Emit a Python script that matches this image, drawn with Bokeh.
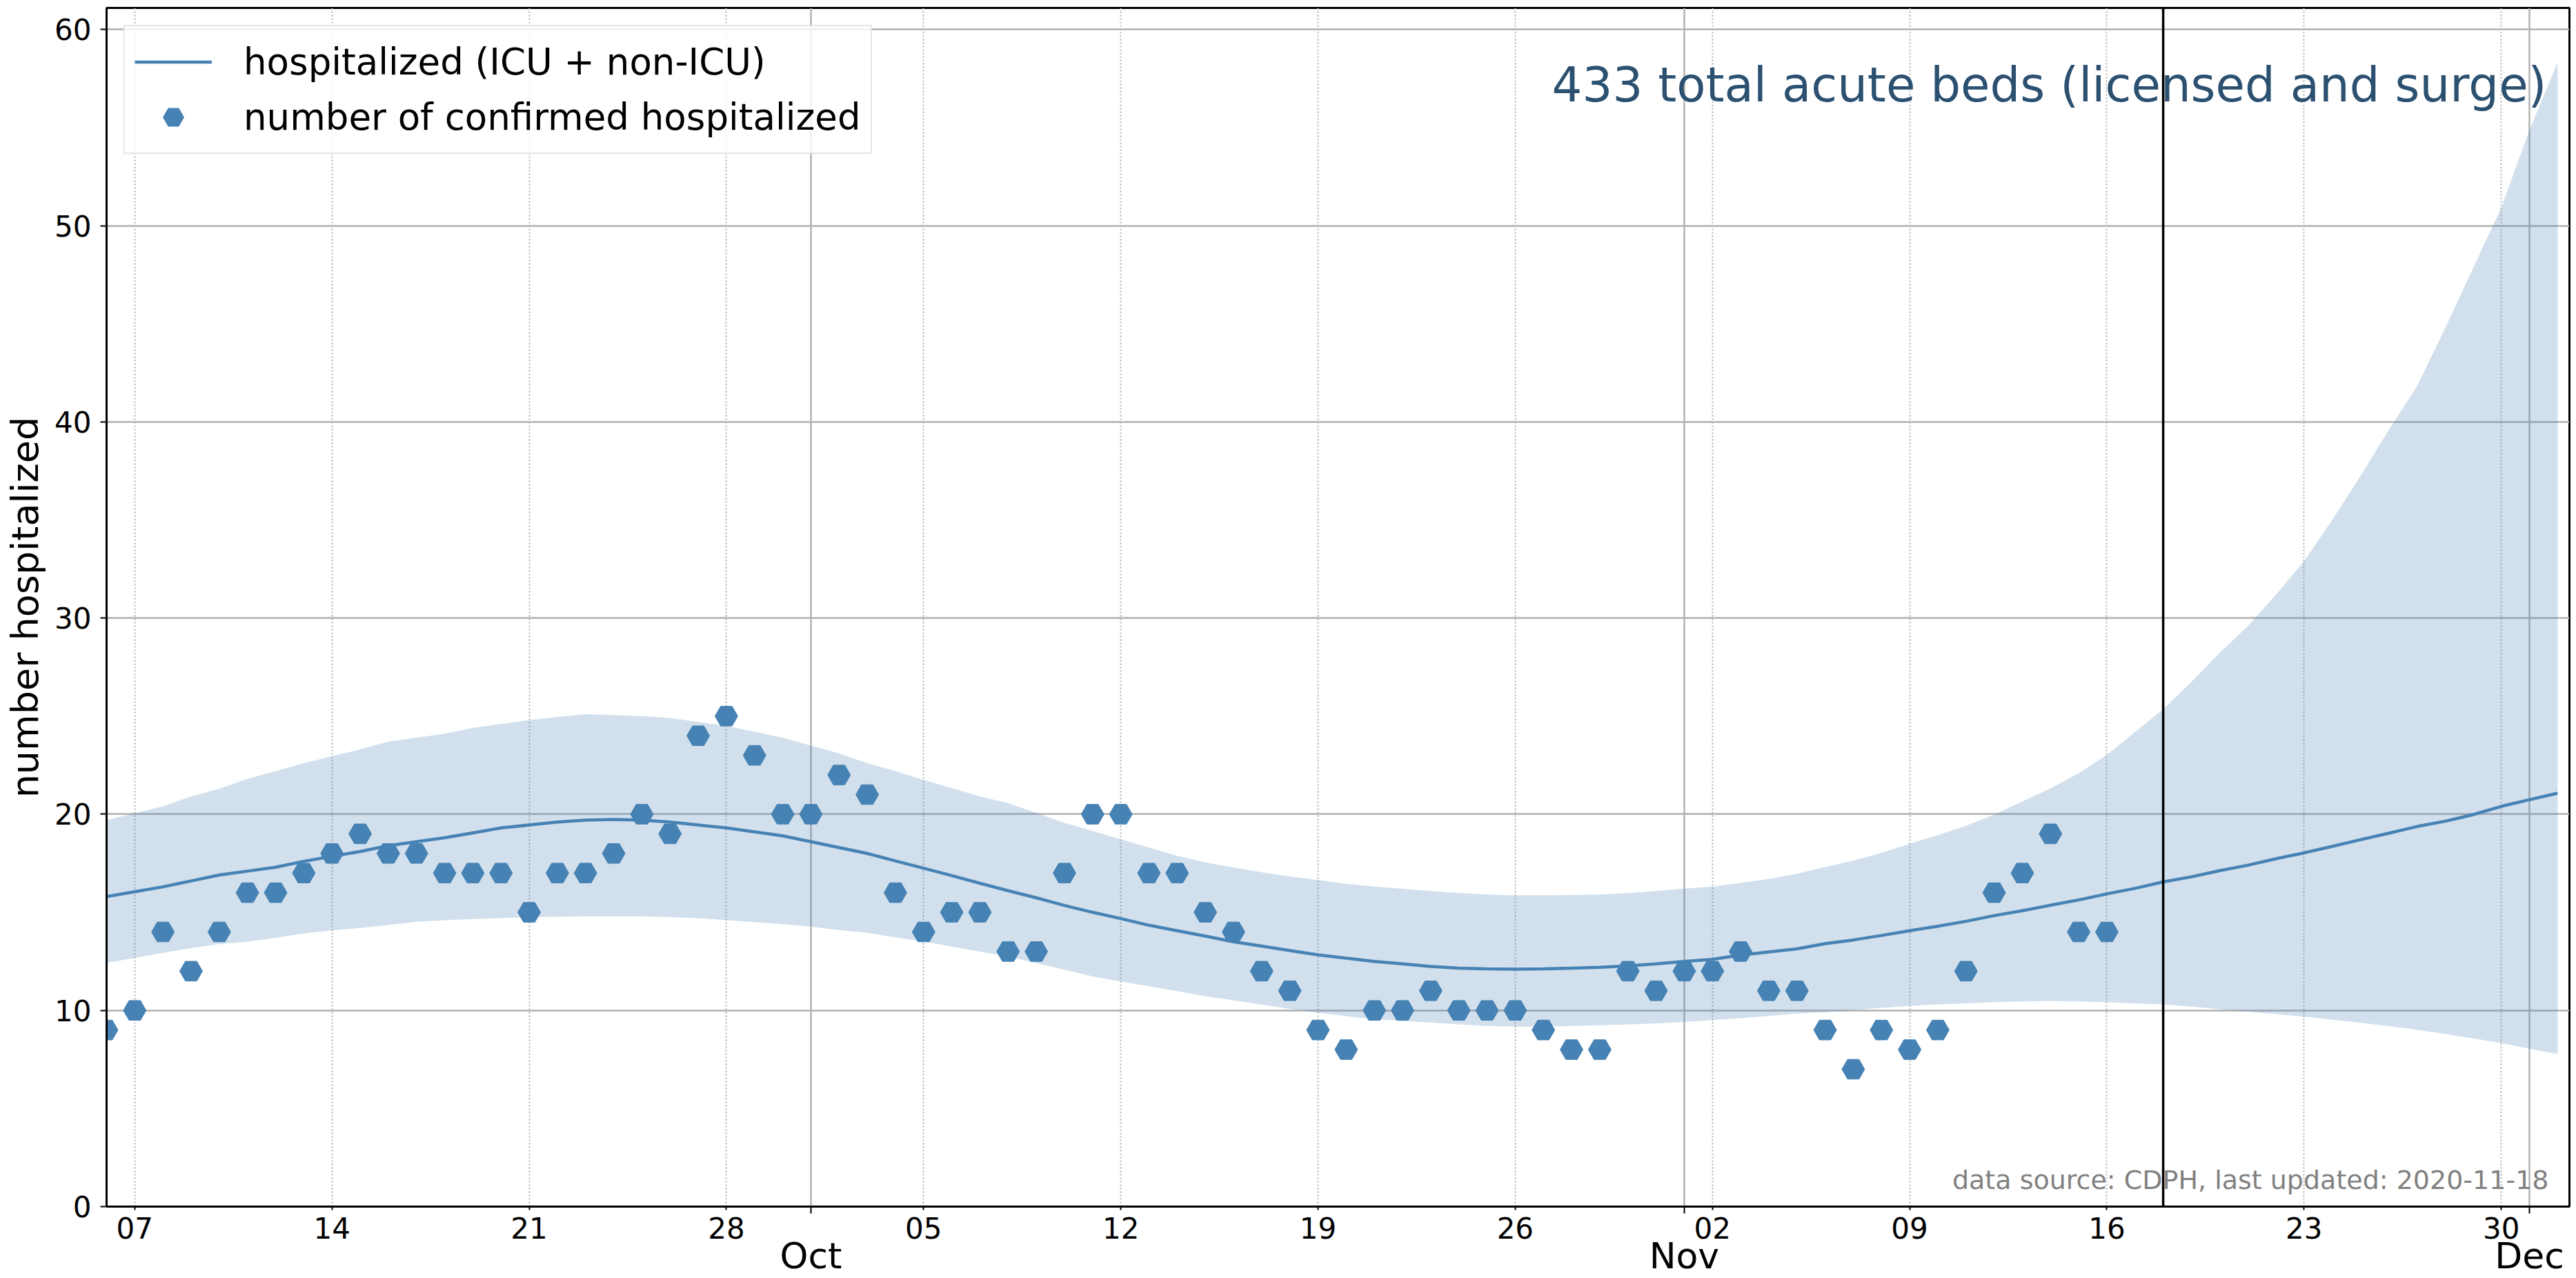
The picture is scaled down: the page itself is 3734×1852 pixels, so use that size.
import numpy as np
import pandas as pd
from bokeh.plotting import figure
from bokeh.models import (Range1d, FixedTicker, DatetimeTickFormatter, Span, Label,
                          ColumnDataSource, Legend, LegendItem, DatetimeAxis)
from bokeh.embed import file_html
from bokeh.resources import INLINE

# ---------------- data ----------------
observed_start = "2020-09-06"
observed = [9, 10, 14, 12, 14, 16, 16, 17, 18, 19, 18, 18, 17, 17, 17, 15, 17, 17, 18, 20,
            19, 24, 25, 23, 20,
            20, 22, 21, 16, 14, 15, 15, 13, 13, 17, 20, 20, 17, 17, 15, 14, 12, 11, 9, 8,
            10, 10, 11, 10, 10, 10, 9, 8, 8, 12, 11,
            12, 12, 13, 11, 11, 9, 7, 9, 8, 9, 12, 16, 17, 19, 14, 14]

model_start = "2020-09-06"
fit = [15.8, 16.05, 16.3, 16.6, 16.9, 17.1, 17.3, 17.6, 17.85, 18.1,
       18.4, 18.6, 18.8, 19.05, 19.3, 19.45, 19.6, 19.7, 19.73, 19.7,
       19.6, 19.45, 19.3, 19.1, 18.9, 18.6, 18.3, 18.0, 17.62, 17.25,
       16.87, 16.48, 16.1, 15.74, 15.35, 15.0, 14.68, 14.34, 14.06, 13.79,
       13.5, 13.28, 13.05, 12.83, 12.66, 12.5, 12.37, 12.24, 12.15, 12.12,
       12.1, 12.12, 12.15, 12.2, 12.27, 12.37, 12.5, 12.6, 12.82, 12.98,
       13.14, 13.4, 13.59, 13.82, 14.06, 14.29, 14.54, 14.83, 15.08, 15.36,
       15.63, 15.94, 16.22, 16.55, 16.81, 17.12, 17.4, 17.73, 18.03, 18.36,
       18.7, 19.03, 19.37, 19.64, 19.98, 20.4, 20.74, 21.07]
upper = [19.7, 20.05, 20.4, 20.9, 21.3, 21.8, 22.2, 22.6, 22.95, 23.3,
         23.7, 23.9, 24.1, 24.4, 24.6, 24.8, 24.96, 25.1, 25.05, 25.0,
         24.9, 24.7, 24.5, 24.2, 23.9, 23.5, 23.1, 22.6, 22.2, 21.75,
         21.33, 20.9, 20.57, 20.07, 19.56, 19.14, 18.72, 18.3, 17.88, 17.54,
         17.29, 17.04, 16.82, 16.65, 16.45, 16.31, 16.2, 16.08, 15.99, 15.91,
         15.86, 15.86, 15.88, 15.91, 15.98, 16.08, 16.21, 16.31, 16.5, 16.7,
         16.96, 17.31, 17.63, 18.03, 18.49, 18.93, 19.41, 19.98, 20.65, 21.32,
         22.08, 23.03, 24.18, 25.35, 26.74, 28.22, 29.58, 31.18, 32.9, 35.0,
         37.23, 39.57, 41.79, 44.75, 47.84, 50.92, 54.87, 58.32]
lower = [12.43, 12.67, 12.94, 13.17, 13.38, 13.5, 13.7, 13.92, 14.08, 14.2,
         14.35, 14.52, 14.6, 14.66, 14.7, 14.76, 14.77, 14.79, 14.79, 14.79,
         14.76, 14.7, 14.6, 14.5, 14.4, 14.27, 14.1, 13.96, 13.72, 13.52,
         13.25, 13.0, 12.74, 12.41, 12.07, 11.73, 11.48, 11.23, 10.98, 10.72,
         10.52, 10.3, 10.08, 9.88, 9.71, 9.55, 9.46, 9.38, 9.29, 9.21,
         9.17, 9.17, 9.21, 9.24, 9.29, 9.34, 9.41, 9.51, 9.6, 9.72,
         9.84, 9.9, 10.02, 10.13, 10.23, 10.31, 10.36, 10.42, 10.46, 10.48,
         10.46, 10.42, 10.36, 10.31, 10.19, 10.06, 9.94, 9.81, 9.68, 9.52,
         9.37, 9.2, 9.01, 8.8, 8.57, 8.34, 8.05, 7.77]

week_ticks = ["2020-09-07", "2020-09-14", "2020-09-21", "2020-09-28", "2020-10-05",
              "2020-10-12", "2020-10-19", "2020-10-26", "2020-11-02", "2020-11-09",
              "2020-11-16", "2020-11-23", "2020-11-30"]
month_ticks = ["2020-10-01", "2020-11-01", "2020-12-01"]
y_ticks = [0, 10, 20, 30, 40, 50, 60]
x_start, x_end_days = "2020-09-06", 87.42
y_max = 61.1
last_updated = "2020-11-18"

line_label = "hospitalized (ICU + non-ICU)"
dots_label = "number of confirmed hospitalized"
beds_text = "433 total acute beds (licensed and surge)"
source_text = "data source: CDPH, last updated: 2020-11-18"
y_label = "number hospitalized"

# ---------------- helpers ----------------
def ms(d):
    return pd.Timestamp(d).value / 1e6

DAY = 86400000.0
obs_x = [ms(observed_start) + i * DAY for i in range(len(observed))]
mod_x = [ms(model_start) + i * DAY for i in range(len(fit))]

FONT = "DejaVu Sans"
BLUE = "#4682b4"
GRID = "#b0b0b0"

p = figure(width=3734, height=1852, x_axis_type="datetime",
           output_backend="svg", toolbar_location=None,
           x_range=Range1d(ms(x_start), ms(x_start) + x_end_days * DAY),
           y_range=Range1d(0, y_max),
           min_border_left=154, min_border_right=10, min_border_top=11,
           min_border_bottom=101)
p.background_fill_color = "white"
p.border_fill_color = "white"
p.outline_line_color = "black"
p.outline_line_width = 3

band_src = ColumnDataSource(dict(x=mod_x, lo=lower, hi=upper, fit=fit))
obs_src = ColumnDataSource(dict(x=obs_x, y=observed))

p.varea(x="x", y1="lo", y2="hi", source=band_src, fill_color=BLUE, fill_alpha=0.25)
line_r = p.line(x="x", y="fit", source=band_src, line_color=BLUE, line_width=4.5)
dots_r = p.scatter(x="x", y="y", source=obs_src, marker="hex", size=33,
                   fill_color=BLUE, line_color=BLUE, line_width=1)

p.add_layout(Span(location=ms(last_updated), dimension="height",
                  line_color="black", line_width=3.5))

# ---- x axis: day numbers (weekly) ----
xa = p.xaxis[0]
xa.ticker = FixedTicker(ticks=[ms(d) for d in week_ticks],
                        minor_ticks=[ms(d) for d in month_ticks])
xa.formatter = DatetimeTickFormatter(days="%d", months="%d", hours="%d",
                                     years="%d", minutes="%d", hourmin="%d")
xa.axis_line_width = 3
xa.major_tick_out = 5
xa.major_tick_in = 0
xa.minor_tick_out = 10
xa.minor_tick_in = 0
xa.major_tick_line_width = 2
xa.minor_tick_line_width = 2
xa.major_label_text_font = FONT
xa.major_label_text_font_size = "42px"
xa.major_label_text_color = "black"
xa.major_label_standoff = 5

# ---- x axis: month names ----
ax2 = DatetimeAxis(ticker=FixedTicker(ticks=[ms(d) for d in month_ticks]),
                   formatter=DatetimeTickFormatter(days="%b", months="%b", hours="%b",
                                                   years="%b", minutes="%b", hourmin="%b"),
                   axis_line_color=None, major_tick_line_color=None,
                   minor_tick_line_color=None, major_label_standoff=-14,
                   major_label_text_font=FONT, major_label_text_font_size="52px",
                   major_label_text_line_height=1.0,
                   major_label_text_color="black")
p.add_layout(ax2, "below")

# ---- y axis ----
ya = p.yaxis[0]
ya.ticker = FixedTicker(ticks=y_ticks)
ya.axis_line_width = 3
ya.major_tick_out = 9
ya.major_tick_in = 0
ya.major_tick_line_width = 2
ya.minor_tick_line_color = None
ya.major_label_text_font = FONT
ya.major_label_text_font_size = "42px"
ya.major_label_text_color = "black"
ya.major_label_standoff = 13
ya.axis_label = y_label
ya.axis_label_text_font = FONT
ya.axis_label_text_font_size = "54px"
ya.axis_label_text_font_style = "normal"
ya.axis_label_text_color = "black"
ya.axis_label_standoff = 8

# grids
p.xgrid.grid_line_color = GRID
p.xgrid.grid_line_width = 2
p.xgrid.grid_line_dash = "2 3"
p.xgrid.minor_grid_line_color = GRID
p.xgrid.minor_grid_line_width = 2.4
p.ygrid.grid_line_color = GRID
p.ygrid.grid_line_width = 2.4

# annotations
p.add_layout(Label(x=3537, y=1626, x_units="screen", y_units="screen", text=beds_text,
                   text_align="right", text_baseline="middle", text_font=FONT,
                   text_font_size="69px", text_color="#2b5070"))
p.add_layout(Label(x=3540, y=39, x_units="screen", y_units="screen", text=source_text,
                   text_align="right", text_baseline="middle", text_font=FONT,
                   text_font_size="38px", text_color="#808080"))

legend = Legend(items=[LegendItem(label=line_label, renderers=[line_r]),
                       LegendItem(label=dots_label, renderers=[dots_r])],
                location="top_left", margin=25, padding=14, spacing=5,
                glyph_width=112, glyph_height=75, label_height=53,
                label_standoff=46, label_text_font=FONT, label_text_font_size="53px",
                label_text_color="black", border_line_color="#cccccc",
                border_line_width=2.5, background_fill_color="white",
                background_fill_alpha=0.8)
p.add_layout(legend)

open("out.html", "w").write(file_html(p, INLINE))
